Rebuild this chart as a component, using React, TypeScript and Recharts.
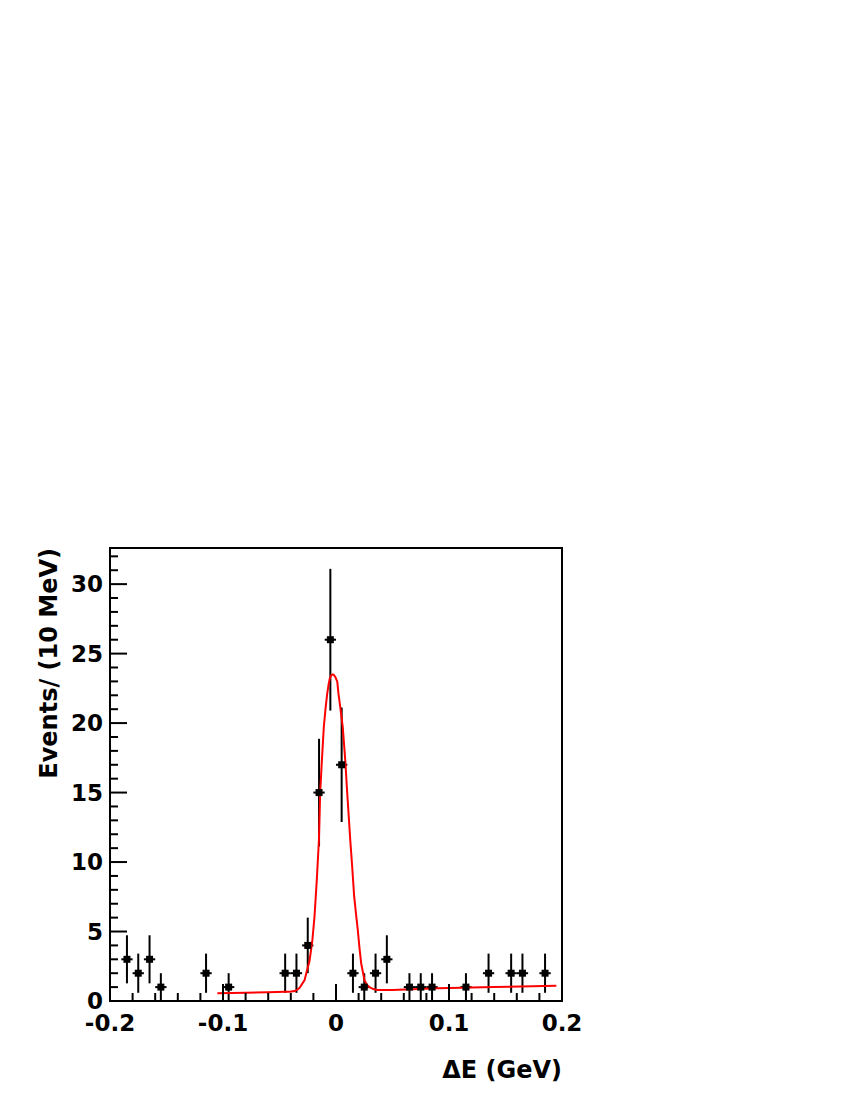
import React from 'react';
import { ComposedChart, Scatter, Line, XAxis, YAxis, ErrorBar, ReferenceArea } from 'recharts';

// bin centres (GeV), counts per 10 MeV bin and their errors
const binCentres = [
  -0.185, -0.175, -0.165, -0.155, -0.115, -0.095, -0.045, -0.035, -0.025, -0.015, -0.005, 0.005,
  0.015, 0.025, 0.035, 0.045, 0.065, 0.075, 0.085, 0.115, 0.135, 0.155, 0.165, 0.185,
];
const counts = [3, 2, 3, 1, 2, 1, 2, 2, 4, 15, 26, 17, 2, 1, 2, 3, 1, 1, 1, 1, 2, 2, 2, 2];
const countErrors = [
  1.73, 1.41, 1.73, 1, 1.41, 1, 1.41, 1.41, 2, 3.87, 5.1, 4.12,
  1.41, 1, 1.41, 1.73, 1, 1, 1, 1, 1.41, 1.41, 1.41, 1.41,
];
const binHalfWidth = 0.005;

// fit curve
const fitX = [
  -0.105, -0.08, -0.06, -0.045, -0.041, -0.0365, -0.0337, -0.0322, -0.0278, -0.0263, -0.0234, -0.021,
  -0.019, -0.017, -0.0151, -0.014, -0.0125, -0.0108, -0.0092, -0.0078, -0.0065, -0.0055, -0.0042, -0.003,
  -0.0018, -0.0005, 0.0011, 0.0022, 0.004, 0.006, 0.0082, 0.0099, 0.0126, 0.0143, 0.016, 0.0178,
  0.0193, 0.0208, 0.0223, 0.0252, 0.0275, 0.0296, 0.033, 0.037, 0.05, 0.09, 0.14, 0.195,
];
const fitY = [
  0.55, 0.6, 0.63, 0.66, 0.67, 0.72, 0.85, 0.95, 1.5, 2.0, 2.9, 4.3,
  6.1, 8.7, 11.6, 15.0, 17.3, 19.7, 21.1, 22.1, 22.8, 23.2, 23.45, 23.5,
  23.45, 23.3, 23.0, 22.1, 21.0, 19.7, 17.3, 15.0, 11.6, 9.7, 7.6, 6.2,
  5.1, 3.8, 2.7, 1.5, 1.15, 1.0, 0.86, 0.79, 0.8, 0.91, 1.0, 1.1,
];

const xTicks = [
  -0.2, -0.18, -0.16, -0.14, -0.12, -0.1, -0.08, -0.06, -0.04, -0.02, 0,
  0.02, 0.04, 0.06, 0.08, 0.1, 0.12, 0.14, 0.16, 0.18, 0.2,
];
const xLabels = ['-0.2', '-0.1', '0', '0.1', '0.2'];
const yTicks = [
  0, 1, 2, 3, 4, 5, 6, 7, 8, 9, 10, 11, 12, 13, 14, 15, 16,
  17, 18, 19, 20, 21, 22, 23, 24, 25, 26, 27, 28, 29, 30, 31, 32,
];

const points = binCentres.map((x, i) => ({ x, y: counts[i], ey: countErrors[i], ex: binHalfWidth }));
const fit = fitX.map((x, i) => ({ x, y: fitY[i] }));

const FONT = '"DejaVu Sans", sans-serif';

const XTick = (props: any) => {
  const { x, y, payload } = props;
  const v = payload.value;
  const idx = Math.round(v * 10 + 2);
  const major = Math.abs(v * 10 - Math.round(v * 10)) < 1e-6;
  return (
    <g>
      <line x1={x} x2={x} y1={y} y2={y - (major ? 17 : 8)} stroke="#000" strokeWidth={2} />
      {major && (
        <text x={x} y={y + 30} textAnchor="middle" fontFamily={FONT} fontWeight="bold" fontSize={23} fill="#000">
          {xLabels[idx]}
        </text>
      )}
    </g>
  );
};

const YTick = (props: any) => {
  const { x, y, payload } = props;
  const v = payload.value;
  const major = v % 5 === 0;
  return (
    <g>
      <line x1={x} x2={x + (major ? 17 : 8)} y1={y} y2={y} stroke="#000" strokeWidth={2} />
      {major && (
        <text x={x - 7} y={y + 8} textAnchor="end" fontFamily={FONT} fontWeight="bold" fontSize={23} fill="#000">
          {v}
        </text>
      )}
    </g>
  );
};

const Marker = (props: any) => {
  const { cx, cy } = props;
  return <rect x={cx - 3.5} y={cy - 3.5} width={7} height={7} fill="#000" />;
};

export default function App() {
  return (
    <div style={{ position: 'absolute', left: 0, top: 0 }}>
      <ComposedChart width={850} height={1100} margin={{ top: 548, right: 288, left: 50, bottom: 59 }}>
        <XAxis
          dataKey="x"
          type="number"
          domain={[-0.2, 0.2]}
          allowDataOverflow
          ticks={xTicks}
          interval={0}
          tick={<XTick />}
          tickLine={false}
          tickSize={0}
          tickMargin={0}
          height={40}
          axisLine={{ stroke: '#000', strokeWidth: 2 }}
          label={{
            content: (p: any) => (
              <text
                x={p.viewBox.x + p.viewBox.width}
                y={p.viewBox.y + 77}
                textAnchor="end"
                fontFamily={FONT}
                fontWeight="bold"
                fontSize={24}
                fill="#000"
              >
                ΔE (GeV)
              </text>
            ),
          }}
        />
        <YAxis
          type="number"
          domain={[0, 32.6]}
          allowDataOverflow
          ticks={yTicks}
          interval={0}
          tick={<YTick />}
          tickLine={false}
          tickSize={0}
          tickMargin={0}
          width={60}
          axisLine={{ stroke: '#000', strokeWidth: 2 }}
          label={{
            content: (p: any) => (
              <text
                x={p.viewBox.x + 7}
                y={p.viewBox.y}
                transform={`rotate(-90, ${p.viewBox.x + 7}, ${p.viewBox.y})`}
                textAnchor="end"
                fontFamily={FONT}
                fontWeight="bold"
                fontSize={24}
                fill="#000"
              >
                Events/ (10 MeV)
              </text>
            ),
          }}
        />
        <ReferenceArea x1={-0.2} x2={0.2} y1={0} y2={32.6} fill="none" stroke="#000" strokeWidth={2} />
        <Scatter data={points} dataKey="y" shape={<Marker />} isAnimationActive={false}>
          <ErrorBar dataKey="ey" direction="y" width={0} stroke="#000" strokeWidth={2} isAnimationActive={false} />
          <ErrorBar dataKey="ex" direction="x" width={0} stroke="#000" strokeWidth={2} isAnimationActive={false} />
        </Scatter>
        <Line
          data={fit}
          dataKey="y"
          type="linear"
          stroke="#ff0000"
          strokeWidth={2}
          dot={false}
          activeDot={false}
          isAnimationActive={false}
        />
      </ComposedChart>
    </div>
  );
}
